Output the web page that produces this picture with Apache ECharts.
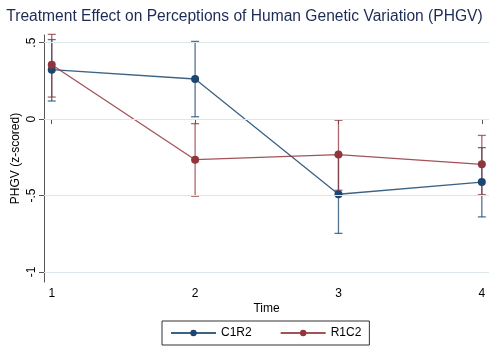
<!DOCTYPE html>
<html><head><meta charset="utf-8">
<script src="https://cdn.jsdelivr.net/npm/echarts@6/dist/echarts.min.js"></script>
<style>html,body{margin:0;padding:0;background:#fff}#c{width:489px;height:346px}</style>
</head><body><div id="c"></div>
<script>
const times = [1, 2, 3, 4];
const c1r2Mean = [0.323, 0.262, -0.492, -0.412];
const c1r2Low  = [0.118, 0.015, -0.748, -0.640];
const c1r2High = [0.520, 0.508, -0.236, -0.187];
const r1c2Mean = [0.355, -0.266, -0.232, -0.296];
const r1c2Low  = [0.144, -0.505, -0.466, -0.494];
const r1c2High = [0.554, -0.030, -0.008, -0.107];
const yTicks = [-1, -0.5, 0, 0.5];
const yTickLabels = ['-1', '-.5', '0', '.5'];
const BLUE = '#1a476f', RED = '#90353b';
const FONT = 'Liberation Sans, Arial, sans-serif';

function ciSeries(name, low, high, color) {
  return {
    type: 'custom', name: name + ' CI', silent: true, z: 2,
    data: times.map((t, i) => [t, low[i], high[i]]),
    renderItem: function (params, api) {
      const x = api.value(0);
      const p1 = api.coord([x, api.value(1)]);
      const p2 = api.coord([x, api.value(2)]);
      const w = 4;
      const st = { stroke: color, lineWidth: 1.3, opacity: 0.75 };
      return { type: 'group', children: [
        { type: 'line', shape: { x1: p1[0], y1: p1[1], x2: p2[0], y2: p2[1] }, style: st },
        { type: 'line', shape: { x1: p1[0]-w, y1: p1[1], x2: p1[0]+w, y2: p1[1] }, style: st },
        { type: 'line', shape: { x1: p2[0]-w, y1: p2[1], x2: p2[0]+w, y2: p2[1] }, style: st }
      ]};
    },
    encode: { x: 0, y: [1, 2] }
  };
}
function lineSeries(name, mean, color, z) {
  return {
    type: 'line', name: name, z: z,
    data: times.map((t, i) => [t, mean[i]]),
    symbol: 'circle', symbolSize: 8,
    itemStyle: { color: color },
    lineStyle: { color: color, width: 1.3, opacity: 0.85 },
    emphasis: { disabled: true }
  };
}
const chart = echarts.init(document.getElementById('c'), null, { renderer: 'canvas' });
const gridSeries = {
  type: 'line', name: 'grid', data: [], silent: true, z: 1,
  markLine: {
    silent: true, symbol: 'none', label: { show: false },
    lineStyle: { color: '#dbe7ea', width: 1, type: 'solid' },
    data: yTicks.map(v => ({ yAxis: v }))
  }
};
const series = [
  gridSeries,
  ciSeries('C1R2', c1r2Low, c1r2High, BLUE),
  ciSeries('R1C2', r1c2Low, r1c2High, RED),
  lineSeries('C1R2', c1r2Mean, BLUE, 3),
  lineSeries('R1C2', r1c2Mean, RED, 4)
];
chart.setOption({
  animation: false,
  backgroundColor: '#fff',
  title: {
    text: 'Treatment Effect on Perceptions of Human Genetic Variation (PHGV)',
    left: 'center', top: 4,
    textStyle: { fontFamily: FONT, fontSize: 15.6, fontWeight: 'normal', color: '#1c2b55' }
  },
  grid: { left: 44, right: 0, top: 35, bottom: 64, outerBoundsMode: 'none', containLabel: false },
  xAxis: {
    type: 'value', min: 0.946, max: 4.05,
    name: 'Time', nameLocation: 'middle', nameGap: 21, nameMoveOverlap: false,
    nameTextStyle: { fontFamily: FONT, fontSize: 12, color: '#000' },
    axisLine: { show: true, lineStyle: { color: '#555', width: 1 } },
    axisTick: { show: true, length: 5, customValues: times, lineStyle: { color: '#555' } },
    axisLabel: { customValues: times, margin: 6, fontFamily: FONT, fontSize: 12, color: '#000' },
    splitLine: { show: false }
  },
  yAxis: {
    type: 'value', min: -1.066, max: 0.55,
    name: 'PHGV (z-scored)', nameLocation: 'middle', nameGap: 22, nameRotate: 90, nameMoveOverlap: false,
    nameTextStyle: { fontFamily: FONT, fontSize: 12, color: '#000' },
    axisLine: { show: true, lineStyle: { color: '#555', width: 1 } },
    axisTick: { show: true, length: 5, customValues: yTicks, lineStyle: { color: '#555' } },
    axisLabel: {
      customValues: yTicks, rotate: 90, margin: 6, fontFamily: FONT, fontSize: 12, color: '#000',
      formatter: v => { const i = yTicks.findIndex(t => Math.abs(t - v) < 1e-9); return i >= 0 ? yTickLabels[i] : ''; }
    },
    splitLine: { show: false }
  },
  legend: {
    data: ['C1R2', 'R1C2'], left: 162, top: 321,
    itemWidth: 45, itemHeight: 8, itemGap: 28,
    padding: [6, 8, 6, 8],
    borderColor: '#333', borderWidth: 1,
    textStyle: { fontFamily: FONT, fontSize: 12, color: '#000' }
  },
  series: series
});
</script></body></html>
